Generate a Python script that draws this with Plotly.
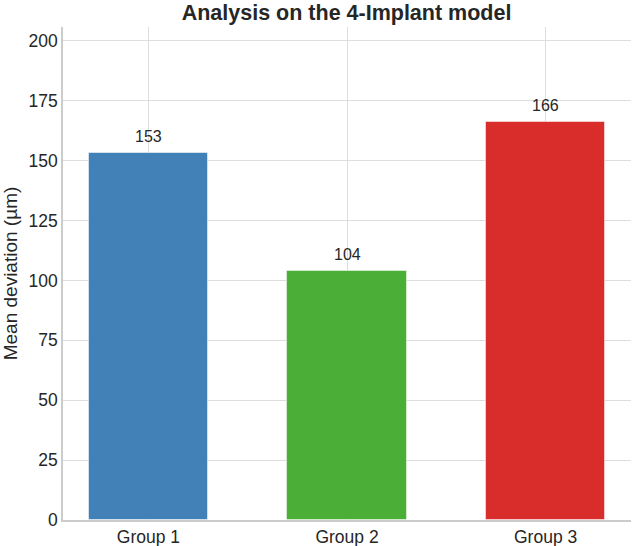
import plotly.graph_objects as go

categories = ["Group 1", "Group 2", "Group 3"]
values = [153, 104, 166]
colors = ["#4281B7", "#4BAF37", "#D92D2B"]
tick_vals = [0, 25, 50, 75, 100, 125, 150, 175, 200]

FONT = "Liberation Sans, Arial, sans-serif"
xs = list(range(len(categories)))

fig = go.Figure()
fig.add_trace(go.Bar(
    x=xs,
    y=values,
    width=0.6,
    marker=dict(color=colors, line=dict(color="rgba(255,255,255,0.5)", width=1)),
    cliponaxis=False,
    hoverinfo="x+y",
))

for xv, v in zip(xs, values):
    fig.add_annotation(x=xv, y=v, text=str(v), showarrow=False,
                       yanchor="bottom", yshift=6,
                       font=dict(size=16, color="#262626", family=FONT))

fig.update_layout(
    width=633, height=546,
    margin=dict(l=63, r=2, t=27, b=26, autoexpand=False),
    paper_bgcolor="white", plot_bgcolor="white",
    font=dict(family=FONT, color="#262626"),
    title=dict(text="<b>Analysis on the 4-Implant model</b>", x=0.5475, xanchor="center",
               y=0.978, yanchor="middle", font=dict(size=21.5, color="#262626")),
    showlegend=False,
    bargap=0,
)
fig.update_xaxes(
    range=[-0.43, 2.43], automargin=False,
    tickmode="array", tickvals=xs, ticktext=categories,
    showgrid=True, gridcolor="#dddddd", gridwidth=1,
    showline=True, linecolor="#cccccc", linewidth=1.5,
    ticks="", tickfont=dict(size=17.5), zeroline=False,
)
fig.update_yaxes(
    range=[0, 205.8], automargin=False,
    tickmode="array", tickvals=tick_vals,
    showgrid=True, gridcolor="#dddddd", gridwidth=1,
    showline=True, linecolor="#cccccc", linewidth=1.5,
    ticks="", tickfont=dict(size=17.5), zeroline=False,
    title=dict(text="Mean deviation (µm)", font=dict(size=19), standoff=6),
)

fig.write_html("out.html")
